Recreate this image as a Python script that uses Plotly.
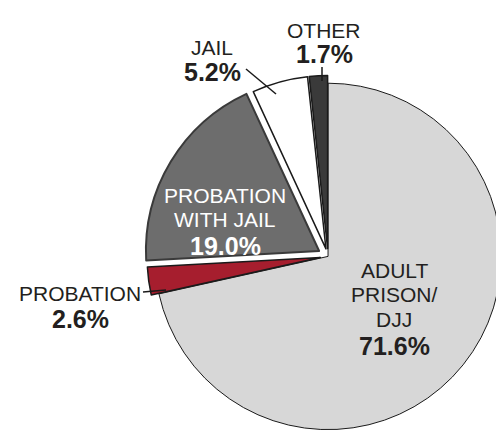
import plotly.graph_objects as go

W, H = 504, 432

labels = ["ADULT PRISON/DJJ", "PROBATION", "PROBATION WITH JAIL", "JAIL", "OTHER"]
values = [71.6, 2.6, 19.0, 5.2, 1.7]
colors = ["#d7d7d7", "#a61e2e", "#6d6d6d", "#ffffff", "#3a3a3a"]
pulls = [0, 0.045, 0.06, 0.045, 0.045]
line_colors = ["#1a1a1a", "#1a1a1a", "#3a3a3a", "#1a1a1a", "#1a1a1a"]
line_widths = [1, 1.5, 2, 1.5, 1.5]

FONT = "Liberation Sans, Arial, sans-serif"
TXT = "#231f20"


def px(x, y):
    # pixel (from top-left) -> paper coords
    return x / W, 1 - y / H


fig = go.Figure()
fig.add_trace(go.Pie(
    labels=labels, values=values, sort=False, direction="clockwise", rotation=0,
    pull=pulls, textinfo="none", hoverinfo="label+percent",
    marker=dict(colors=colors, line=dict(color=line_colors, width=line_widths)),
    domain=dict(x=[0.27, 1.0], y=[0.0, 0.85]),
    showlegend=False,
))

pct = {lab: f"{v:.1f}%" for lab, v in zip(labels, values)}

# (text lines, x center, y centers, colour)
label_spec = [
    (["OTHER", pct["OTHER"]], 316, [21, 45], TXT),
    (["JAIL", pct["JAIL"]], 204, [38, 63], TXT),
    (["PROBATION", "WITH JAIL", pct["PROBATION WITH JAIL"]], 217, [186, 211, 237], "white"),
    (["PROBATION", pct["PROBATION"]], 72, [284, 310], TXT),
    (["ADULT", "PRISON/", "DJJ", pct["ADULT PRISON/DJJ"]], 386, [261, 285, 310, 337], TXT),
]

for lines, cx, ys, col in label_spec:
    for i, (t, cy) in enumerate(zip(lines, ys)):
        bold = i == len(lines) - 1
        x, y = px(cx, cy + 1)
        fig.add_annotation(
            x=x, y=y, xref="paper", yref="paper", showarrow=False,
            xanchor="center", yanchor="middle",
            text=f"<b>{t}</b>" if bold else t,
            font=dict(family=FONT, size=25 if bold else 21, color=col),
        )

leaders = [((314, 59), (314, 73)), ((238, 61), (268, 86)), ((135, 284), (158, 282))]
for (x0, y0), (x1, y1) in leaders:
    a, b = px(x0, y0)
    c, d = px(x1, y1)
    fig.add_shape(type="line", xref="paper", yref="paper", x0=a, y0=b, x1=c, y1=d,
                  line=dict(color="#1a1a1a", width=1.5))

fig.update_layout(
    width=W, height=H, margin=dict(l=0, r=0, t=0, b=0),
    paper_bgcolor="white", plot_bgcolor="white",
)

fig.write_html("out.html")
